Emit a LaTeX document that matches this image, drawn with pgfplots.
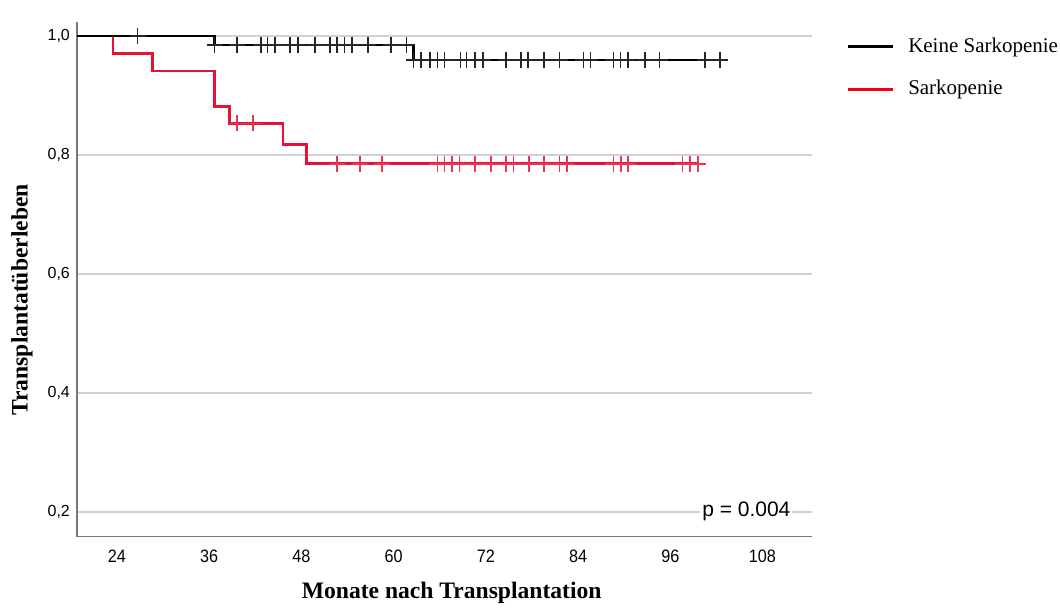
\documentclass[border=0pt]{standalone}
\usepackage{fontspec}
\setmainfont{Liberation Serif}
\newfontfamily\arial{Liberation Sans}
\newfontfamily\arialn[FakeStretch=0.9]{Liberation Sans}
\usepackage{pgfplots}
\pgfplotsset{compat=1.18}
\definecolor{kmred}{RGB}{232,16,52}
\definecolor{legred}{RGB}{245,0,20}
\definecolor{gridgray}{RGB}{208,208,208}
\definecolor{axgray}{RGB}{120,120,120}

\begin{document}
\begin{tikzpicture}
\begin{axis}[
    scale only axis,
    width=368pt,
    height=257.5pt,
    xmin=18.8, xmax=114.5,
    ymin=0.158, ymax=1.0235,
    axis x line*=bottom,
    axis y line*=left,
    axis line style={axgray, line width=0.8pt},
    xtick={24,36,48,60,72,84,96,108},
    ytick={0.2,0.4,0.6,0.8,1.0},
    yticklabels={{0,2},{0,4},{0,6},{0,8},{1,0}},
    major tick length=0pt,
    ymajorgrids,
    grid style={gridgray, line width=1pt},
    /pgf/number format/assume math mode=true,
    x tick label style={font=\arialn\fontsize{9}{10}\selectfont, yshift=-3pt},
    y tick label style={font=\arial\fontsize{8}{9}\selectfont},
    xlabel={Monate nach Transplantation},
    ylabel={Transplantatüberleben},
    label style={font=\bfseries\fontsize{11.8}{13}\selectfont},
    xlabel style={at={(axis description cs:0.5095,-0.1087)}, anchor=center},
    ylabel style={at={(axis description cs:-0.0747,0.46)}, anchor=center},
    legend image code/.code={\draw[#1] (0pt,0pt) -- (22.5pt,0pt);},
    legend style={draw=none, fill=none, inner sep=0pt, outer sep=0pt,
        nodes={inner sep=1pt},
        at={(rel axis cs:1.046,0.973)},
        anchor=north west, row sep=10.5pt, column sep=6pt,
        font=\fontsize{10.5}{12}\selectfont},
    legend cell align=left,
    clip=false,
]
% Sarkopenie
\addplot[const plot, kmred, line width=1.4pt, forget plot] coordinates {
    (18.8,1) (23.5,0.971) (28.6,0.941) (36.7,0.882) (38.7,0.853)
    (45.6,0.818) (48.7,0.785) (99.6,0.785)};
\addplot[only marks, mark=+, mark size=4pt, kmred!85, line width=0.8pt, forget plot] coordinates {
    (39.6,0.853) (41.7,0.853)
    (52.6,0.785) (55.6,0.785) (58.5,0.785) (65.7,0.785) (66.6,0.785)
    (67.6,0.785) (68.6,0.785) (70.6,0.785) (72.7,0.785) (74.6,0.785)
    (75.6,0.785) (77.6,0.785) (79.6,0.785) (81.6,0.785) (82.6,0.785)
    (88.6,0.785) (89.6,0.785) (90.5,0.785) (97.6,0.785) (98.6,0.785)
    (99.6,0.785)};
% Keine Sarkopenie
\addplot[const plot, black, line width=1.2pt, forget plot] coordinates {
    (18.8,1) (36.7,0.985) (62.6,0.96) (102.5,0.96)};
\addplot[only marks, mark=+, mark size=4pt, black!85, line width=0.8pt, forget plot] coordinates {
    (26.7,1)
    (36.7,0.985) (39.65,0.985) (42.76,0.985) (43.6,0.985) (44.6,0.985)
    (46.56,0.985) (47.6,0.985) (49.8,0.985) (51.74,0.985) (52.6,0.985)
    (53.6,0.985) (54.6,0.985) (56.7,0.985) (59.7,0.985) (61.7,0.985)
    (62.6,0.96) (63.6,0.96) (64.7,0.96) (65.7,0.96) (66.6,0.96)
    (68.7,0.96) (69.5,0.96) (70.6,0.96) (71.6,0.96) (74.6,0.96)
    (76.6,0.96) (77.5,0.96) (79.6,0.96) (81.6,0.96) (84.7,0.96)
    (85.6,0.96) (88.6,0.96) (89.5,0.96) (90.5,0.96) (92.7,0.96)
    (94.6,0.96) (100.5,0.96) (102.5,0.96)};

\addlegendimage{black, line width=1.5pt}
\addlegendentry{Keine Sarkopenie}
\addlegendimage{legred, line width=1.5pt}
\addlegendentry{Sarkopenie}

\node[font=\arial\fontsize{10.5}{12}\selectfont, fill=white, inner sep=1pt]
    at (axis cs:105.9,0.2) {p = 0.004};
\path (rel axis cs:-0.1046,-0.134) rectangle (rel axis cs:1.3356,1.0427);
\end{axis}
\end{tikzpicture}
\end{document}
